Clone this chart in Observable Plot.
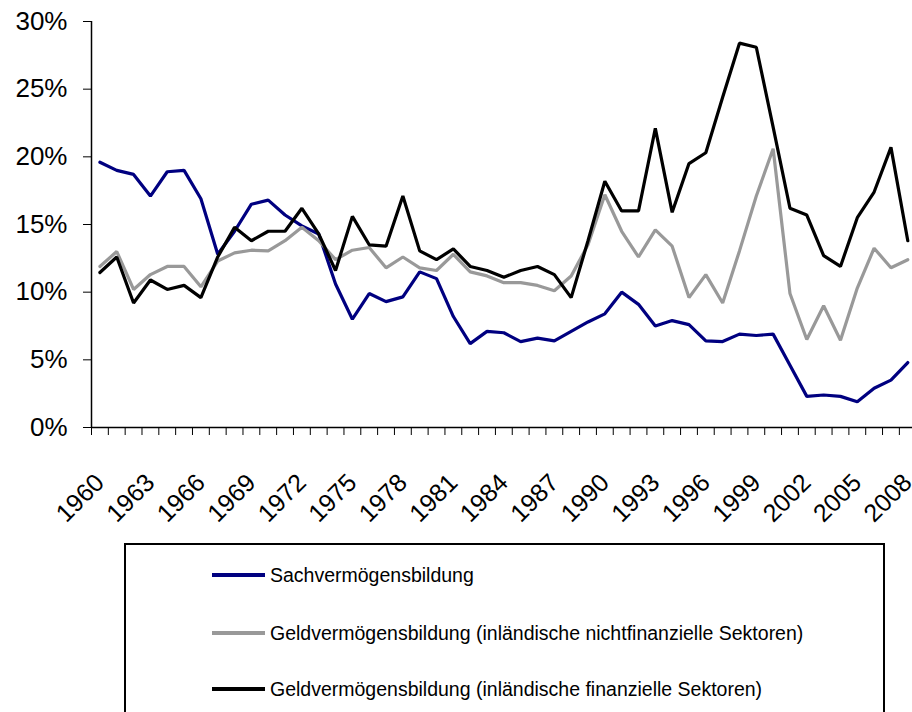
<!DOCTYPE html>
<html>
<head>
<meta charset="utf-8">
<script src="https://cdn.jsdelivr.net/npm/d3@7"></script>
<script src="https://cdn.jsdelivr.net/npm/@observablehq/plot@0.6"></script>
<style>
  body { margin: 0; background: #fff; font-family: "Liberation Sans", Arial, sans-serif; }
  #wrap { position: relative; width: 912px; height: 712px; overflow: hidden; }
  #chart { position: absolute; left: 0; top: 0; }
  #legend { position: absolute; left: 124px; top: 543px; width: 761px; height: 200px; border: 2px solid #000; box-sizing: border-box; background: #fff; }
  .item { position: absolute; left: 86px; height: 22px; display: flex; align-items: center; font-size: 19.5px; color: #000; white-space: nowrap; }
  .sw { width: 53px; height: 4px; margin-right: 5px; }
</style>
</head>
<body>
<div id="wrap">
  <div id="chart"></div>
  <div id="legend"></div>
</div>
<script>
const years = [1960,1961,1962,1963,1964,1965,1966,1967,1968,1969,1970,1971,1972,1973,1974,1975,1976,1977,1978,1979,1980,1981,1982,1983,1984,1985,1986,1987,1988,1989,1990,1991,1992,1993,1994,1995,1996,1997,1998,1999,2000,2001,2002,2003,2004,2005,2006,2007,2008];

const sach = [19.6,19.0,18.7,17.1,18.9,19.0,16.9,12.8,14.5,16.5,16.8,15.7,14.9,14.3,10.6,8.0,9.9,9.3,9.65,11.5,11.0,8.2,6.2,7.1,7.0,6.35,6.6,6.4,7.1,7.8,8.4,10.0,9.1,7.5,7.9,7.6,6.4,6.35,6.9,6.8,6.9,4.6,2.3,2.4,2.3,1.9,2.9,3.5,4.8];

const geldNichtFin = [11.9,13.0,10.2,11.3,11.9,11.9,10.4,12.3,12.9,13.1,13.05,13.8,14.8,13.8,12.4,13.1,13.3,11.8,12.6,11.8,11.6,12.8,11.5,11.2,10.7,10.7,10.5,10.1,11.2,13.5,17.2,14.5,12.6,14.6,13.4,9.6,11.3,9.2,13.05,17.1,20.6,9.9,6.5,9.0,6.45,10.3,13.25,11.8,12.4];

const geldFin = [11.45,12.6,9.2,10.9,10.2,10.5,9.6,12.6,14.8,13.8,14.5,14.5,16.2,14.3,11.6,15.6,13.5,13.4,17.1,13.05,12.4,13.2,11.9,11.6,11.1,11.6,11.9,11.3,9.6,13.8,18.2,16.0,16.0,22.1,15.9,19.5,20.3,24.4,28.4,28.1,22.2,16.2,15.7,12.7,11.9,15.5,17.4,20.7,13.8];

const seriesNames = [
  "Sachvermögensbildung",
  "Geldvermögensbildung (inländische nichtfinanzielle Sektoren)",
  "Geldvermögensbildung (inländische finanzielle Sektoren)"
];
const seriesColors = ["#000080", "#999999", "#000000"];

const yTicks = [0, 5, 10, 15, 20, 25, 30];
const labelYears = [1960,1963,1966,1969,1972,1975,1978,1981,1984,1987,1990,1993,1996,1999,2002,2005,2008];

const table = [];
[sach, geldNichtFin, geldFin].forEach((vals, s) => {
  vals.forEach((v, i) => table.push({year: years[i], value: v, series: seriesNames[s]}));
});
const boundaries = years.map(y => y - 0.5);

const chart = Plot.plot({
  width: 912,
  height: 540,
  marginLeft: 91,
  marginRight: 0,
  marginTop: 21,
  marginBottom: 113,
  style: {fontFamily: "'Liberation Sans', Arial, sans-serif", background: "#fff", overflow: "hidden"},
  x: {type: "linear", domain: [1959.5, 2008.5], range: [91, 915.7], label: null},
  y: {domain: [0, 30], range: [427, 21], label: null},
  color: {domain: seriesNames, range: seriesColors},
  marks: [
    Plot.axisX({ticks: boundaries, tickFormat: () => "", tickSize: 8, stroke: "#000", strokeWidth: 1, label: null}),
    Plot.axisX({ticks: labelYears, tickFormat: d => String(d), tickSize: 0, tickPadding: 51, tickRotate: -45, fontSize: 25, fill: "#000", label: null}),
    Plot.axisY({ticks: yTicks, tickFormat: d => d + "%", tickSize: 8, tickPadding: 16, fontSize: 26, fill: "#000", label: null}),
    Plot.ruleY([0], {stroke: "#000", strokeWidth: 1.5}),
    Plot.ruleX([1959.5], {stroke: "#000", strokeWidth: 1.5}),
    Plot.lineY(table, {x: "year", y: "value", z: "series", stroke: "series", strokeWidth: 3.2, strokeLinejoin: "miter"})
  ]
});
document.getElementById("chart").appendChild(chart);

const legend = document.getElementById("legend");
const tops = [19, 77, 133];
seriesNames.forEach((name, i) => {
  const item = document.createElement("div");
  item.className = "item";
  item.style.top = tops[i] + "px";
  const sw = document.createElement("div");
  sw.className = "sw";
  sw.style.background = seriesColors[i];
  const t = document.createElement("span");
  t.textContent = name;
  item.appendChild(sw);
  item.appendChild(t);
  legend.appendChild(item);
});
</script>
</body>
</html>
